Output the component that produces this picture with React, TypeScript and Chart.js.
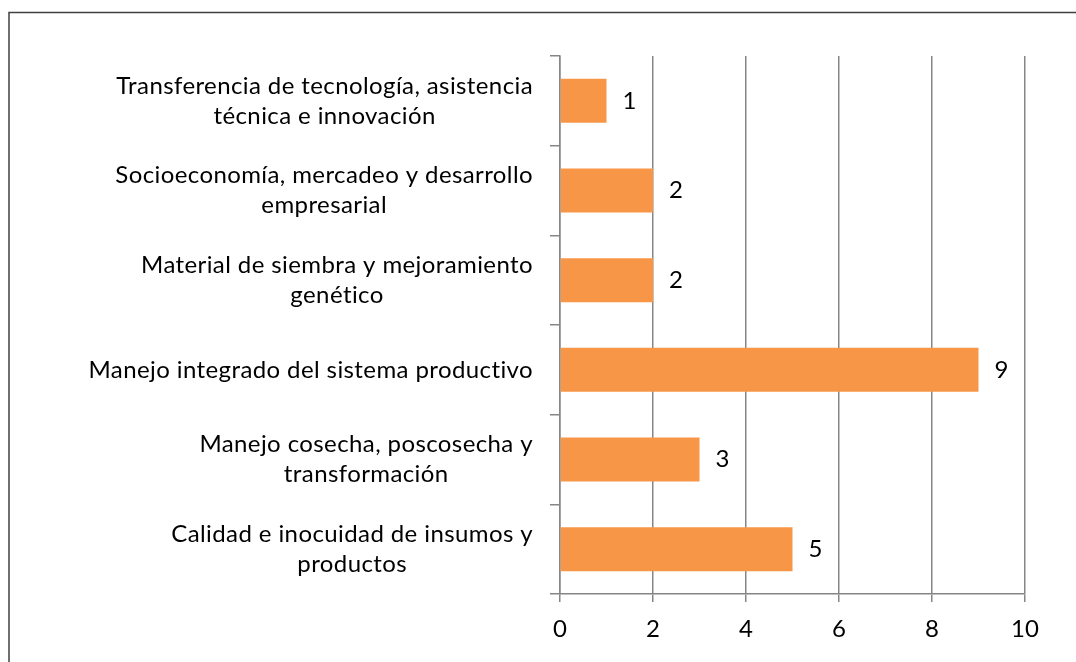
import React, { useEffect, useRef } from "react";
import { Chart, registerables } from "chart.js";

Chart.register(...registerables);

const categories: string[][] = [
  ["Transferencia de tecnología, asistencia", "técnica e innovación"],
  ["Socioeconomía, mercadeo y desarrollo", "empresarial"],
  ["Material de siembra y mejoramiento", "genético"],
  ["Manejo integrado del sistema productivo"],
  ["Manejo cosecha, poscosecha y", "transformación"],
  ["Calidad e inocuidad de insumos y", "productos"],
];
const values: number[] = [1, 2, 2, 9, 3, 5];
const xTicks: number[] = [0, 2, 4, 6, 8, 10];

const FONT = "Lato, 'Open Sans', sans-serif";
const FONT_SIZE = 24;
const BAR_COLOR = "#F79646";
const GRID_COLOR = "#868686";

const framePlugin = {
  id: "frame",
  beforeDraw(chart: any) {
    const ctx = chart.ctx;
    ctx.save();
    ctx.fillStyle = "#ffffff";
    ctx.fillRect(0, 0, chart.width, chart.height);
    ctx.strokeStyle = "#404040";
    ctx.lineWidth = 1.5;
    ctx.beginPath();
    ctx.moveTo(9, chart.height + 5);
    ctx.lineTo(9, 12.5);
    ctx.lineTo(chart.width + 5, 12.5);
    ctx.stroke();
    ctx.restore();
  },
};

const labelsPlugin = {
  id: "customLabels",
  afterDatasetsDraw(chart: any) {
    const ctx = chart.ctx;
    const yScale = chart.scales.y;
    const xScale = chart.scales.x;
    ctx.save();
    ctx.font = `${FONT_SIZE}px ${FONT}`;
    try {
      (ctx as any).letterSpacing = "0.4px";
    } catch (e) {}
    ctx.fillStyle = "#000000";
    ctx.textBaseline = "middle";
    const rightEdge = xScale.left - 27;
    const lineH = 30;
    categories.forEach((lines, i) => {
      const yc = yScale.getPixelForTick(i);
      let widest = 0;
      lines.forEach((l) => {
        widest = Math.max(widest, ctx.measureText(l).width);
      });
      const cx = rightEdge - widest / 2;
      ctx.textAlign = "center";
      const startY = yc - ((lines.length - 1) * lineH) / 2;
      lines.forEach((l, j) => {
        ctx.fillText(l, cx, startY + j * lineH);
      });
    });
    // value labels
    const meta = chart.getDatasetMeta(0);
    ctx.textAlign = "left";
    meta.data.forEach((bar: any, i: number) => {
      ctx.fillText(String(values[i]), bar.x + 16, bar.y);
    });
    ctx.restore();
  },
};

export default function App() {
  const ref = useRef<HTMLCanvasElement | null>(null);
  useEffect(() => {
    document.body.style.margin = "0";
    document.body.style.overflow = "hidden";
    const canvas = ref.current!;
    const chart = new Chart(canvas, {
      type: "bar",
      data: {
        labels: categories.map((c) => c.join(" ")),
        datasets: [
          {
            data: values,
            backgroundColor: BAR_COLOR,
            borderWidth: 0,
            barPercentage: 0.49,
            categoryPercentage: 1,
          },
        ],
      },
      options: {
        indexAxis: "y",
        animation: false,
        responsive: false,
        maintainAspectRatio: false,
        layout: { padding: { top: 56, right: 51, left: 0, bottom: 0 } },
        plugins: {
          legend: { display: false },
          tooltip: { enabled: false },
          title: { display: false },
        },
        scales: {
          x: {
            type: "linear",
            min: 0,
            max: 10,
            afterBuildTicks: (scale: any) => {
              scale.ticks = xTicks.map((v) => ({ value: v }));
            },
            afterFit: (scale: any) => {
              scale.height = 68;
            },
            grid: {
              color: GRID_COLOR,
              lineWidth: 1.5,
              drawTicks: true,
              tickLength: 8,
              tickColor: GRID_COLOR,
            },
            border: { display: true, color: GRID_COLOR, width: 1.5 },
            ticks: {
              color: "#000000",
              font: { family: FONT, size: FONT_SIZE },
              padding: 13,
              maxRotation: 0,
            },
          },
          y: {
            type: "category",
            offset: true,
            afterFit: (scale: any) => {
              scale.width = 560;
            },
            grid: {
              display: true,
              drawOnChartArea: false,
              drawTicks: true,
              tickLength: 10,
              offset: true,
              color: GRID_COLOR,
              lineWidth: 1.5,
            },
            border: { display: true, color: GRID_COLOR, width: 1.5 },
            ticks: { display: false },
          },
        },
      },
      plugins: [framePlugin, labelsPlugin],
    });
    return () => chart.destroy();
  }, []);
  return (
    <div style={{ position: "fixed", left: 0, top: 0, width: 1076, height: 662 }}>
      <canvas ref={ref} width={1076} height={662} style={{ width: 1076, height: 662 }} />
    </div>
  );
}
